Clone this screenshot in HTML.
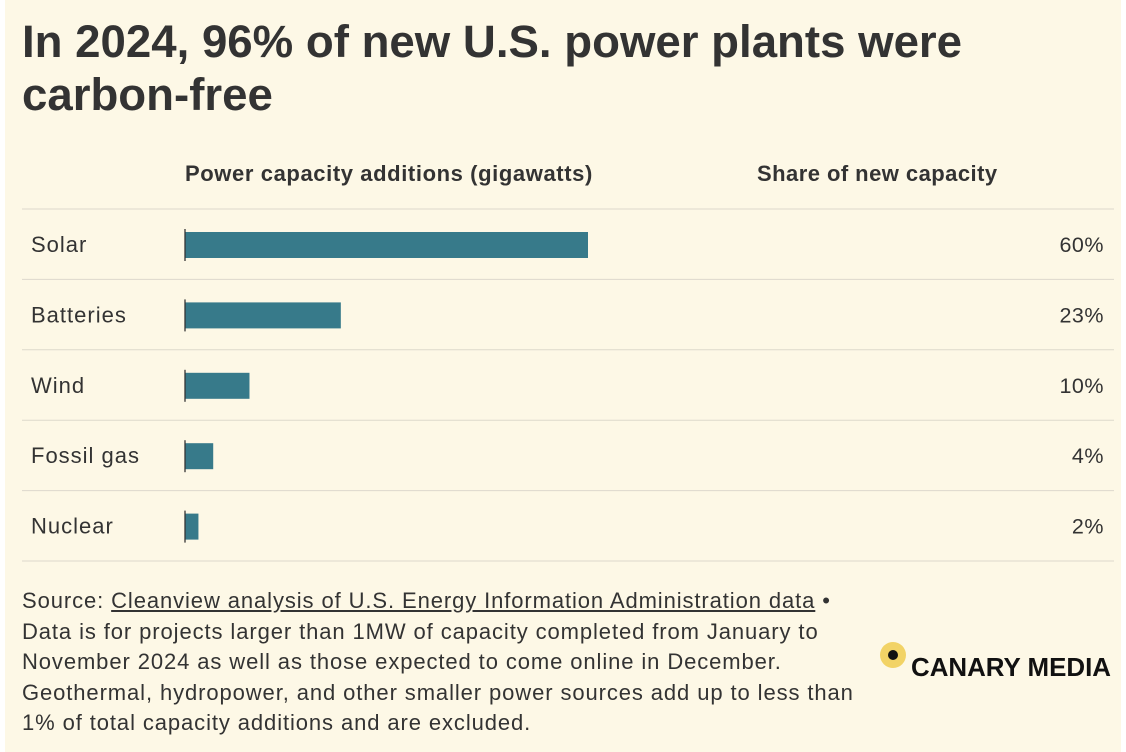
<!DOCTYPE html>
<html><head><meta charset="utf-8"><style>
body{margin:0;background:#fff;width:1126px;height:752px;overflow:hidden;font-family:"Liberation Sans",sans-serif;}
#card{position:absolute;left:5px;top:0;width:1116px;height:752px;background:#fdf8e6;}
h1{position:absolute;left:17px;top:15px;margin:0;font-size:45.6px;line-height:53px;font-weight:bold;color:#333;letter-spacing:0px;white-space:nowrap;}
.hd{position:absolute;top:161px;font-size:22px;font-weight:bold;color:#333;white-space:nowrap;}
#note{position:absolute;left:17px;top:586px;font-size:22px;line-height:30.5px;color:#333;letter-spacing:0.9px;white-space:nowrap;}
#note u{text-decoration:underline;}
#logo{position:absolute;left:869px;top:641px;}
</style></head><body>
<div id="card">
<h1>In 2024, 96% of new U.S. power plants were<br>carbon-free</h1>
<div class="hd" style="left:180px;letter-spacing:0.6px">Power capacity additions (gigawatts)</div>
<div class="hd" style="left:752px;letter-spacing:0.45px">Share of new capacity</div>
<svg id="chart" width="1126" height="752" style="position:absolute;left:-5px;top:0"></svg>
<div id="note">Source: <u>Cleanview analysis of U.S. Energy Information Administration data</u> •<br>Data is for projects larger than 1MW of capacity completed from January to<br>November 2024 as well as those expected to come online in December.<br>Geothermal, hydropower, and other smaller power sources add up to less than<br>1% of total capacity additions and are excluded.</div>
<svg id="logo" width="250" height="44">
<circle cx="19" cy="14" r="13" fill="#f2d366"/><circle cx="19" cy="14" r="5" fill="#111"/>
<text x="37" y="35" font-family="Liberation Sans, sans-serif" font-weight="bold" font-size="26" fill="#111" textLength="200" lengthAdjust="spacingAndGlyphs">CANARY MEDIA</text>
</svg>
</div>
<script>
const categories=["Solar","Batteries","Wind","Fossil gas","Nuclear"];
const gigawatts=[30.0,11.6,4.8,2.1,1.0];
const shares=["60%","23%","10%","4%","2%"];
const svg=document.getElementById('chart');
const NS="http://www.w3.org/2000/svg";
const x0=185, xScale=v=>v*403/30;
const rowTop=i=>209+i*70.4;
function mk(t,a){const e=document.createElementNS(NS,t);for(const k in a)e.setAttribute(k,a[k]);svg.appendChild(e);return e;}
for(let i=0;i<=categories.length;i++){
  const l=mk('line',{x1:22,x2:1114,y1:rowTop(i),y2:rowTop(i),stroke:'#ddd9cc','stroke-width':1});
  
  
}
categories.forEach((c,i)=>{
  const y=rowTop(i);
  const lab=mk('text',{x:31,y:y+43,'font-size':22,fill:'#333','font-family':'Liberation Sans, sans-serif','letter-spacing':1});
  lab.textContent=c;
  
  
  const b=mk('rect',{x:x0,y:y+23,width:xScale(gigawatts[i]),height:26,fill:'#377a8a'});
  
  
  const ax=mk('line',{x1:x0,x2:x0,y1:y+20,y2:y+52,stroke:'#333','stroke-width':1.3});
  
  
  const s=mk('text',{x:1104,y:y+43,'font-size':21.5,fill:'#333','text-anchor':'end','font-family':'Liberation Sans, sans-serif','letter-spacing':0.5});
  s.textContent=shares[i];
  
  
});
</script>
</body></html>
